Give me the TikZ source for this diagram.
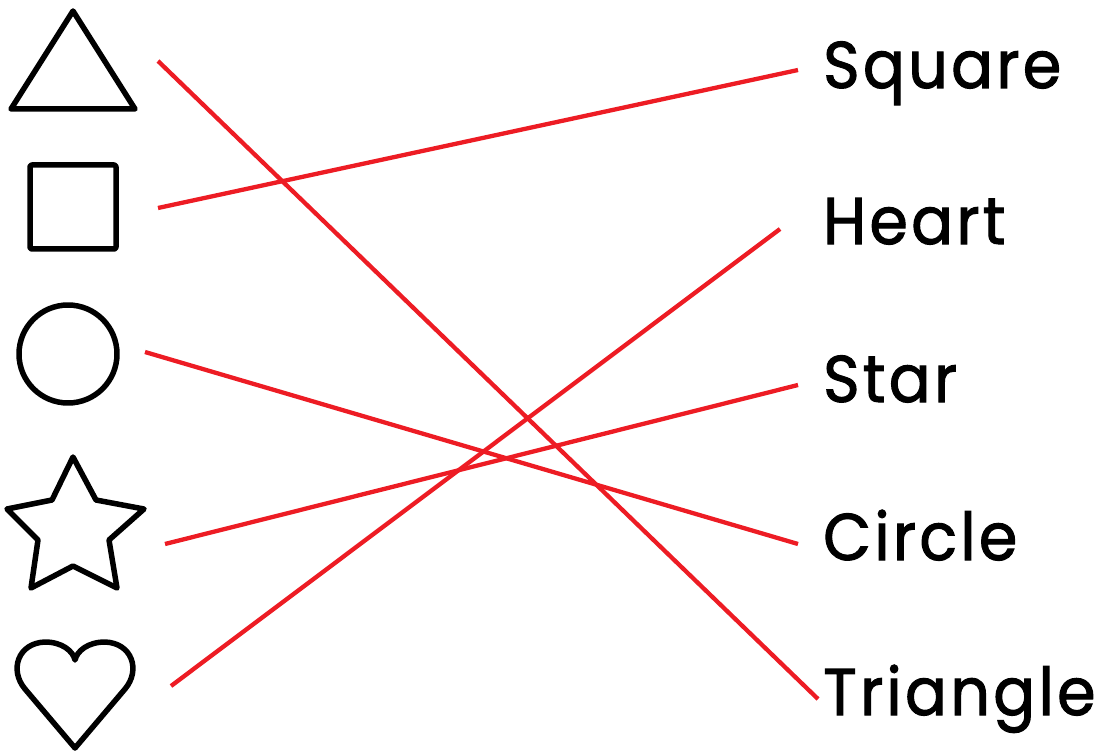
\documentclass[tikz,border=0pt]{standalone}
\usepackage{fontspec}
\setmainfont{Poppins}[LetterSpace=5,FakeBold=1.6,FakeStretch=0.94]
\definecolor{linkred}{HTML}{ED1C24}
\begin{document}
\begin{tikzpicture}[x=1pt,y=-1pt,
  shapeline/.style={draw=black,line width=5.5pt,line join=round,line cap=round},
  link/.style={draw=linkred,line width=4.3pt},
  word/.style={anchor=base west,inner sep=0pt,font=\fontsize{66}{70}\selectfont}]
\useasboundingbox (0,0) rectangle (1102,751);
% shapes
\draw[shapeline] (73,11) -- (135,109) -- (11,109) -- cycle;
\draw[shapeline,rounded corners=2pt] (30,165) rectangle (116,249);
\draw[shapeline] (68,354) circle (49);
\draw[shapeline] (73,457) -- (96,500) -- (144,509) -- (109,540) -- (117,588) -- (73,566)
  -- (31,588) -- (38,540) -- (7,509) -- (52,500) -- cycle;
\draw[shapeline] (75,748) -- (25,689) .. controls (9,670) and (18,643) .. (45,642)
  .. controls (62,642) and (73,651) .. (75,660) .. controls (77,651) and (88,642) .. (105,642)
  .. controls (132,643) and (141,670) .. (125,689) -- cycle;
% labels
\node[word] (wsquare) at (823,88) {Square};
\node[word] (wheart) at (823,244) {Heart};
\node[word] (wstar) at (823,402) {Star};
\node[word] (wcircle) at (823,560) {Circle};
\node[word] (wtriangle) at (823,715) {Triangle};
% connector ends
\coordinate (ctri) at (158,61);
\coordinate (csq) at (158,208);
\coordinate (ccir) at (145,352);
\coordinate (cstar) at (165,544);
\coordinate (cheart) at (171,686);
\coordinate (etri) at (818,699);
\coordinate (esq) at (798,70);
\coordinate (ecir) at (798,544);
\coordinate (estar) at (798,385);
\coordinate (eheart) at (780,229);
\draw[link] (ctri) -- (etri);
\draw[link] (csq) -- (esq);
\draw[link] (ccir) -- (ecir);
\draw[link] (cstar) -- (estar);
\draw[link] (cheart) -- (eheart);
\end{tikzpicture}
\end{document}
